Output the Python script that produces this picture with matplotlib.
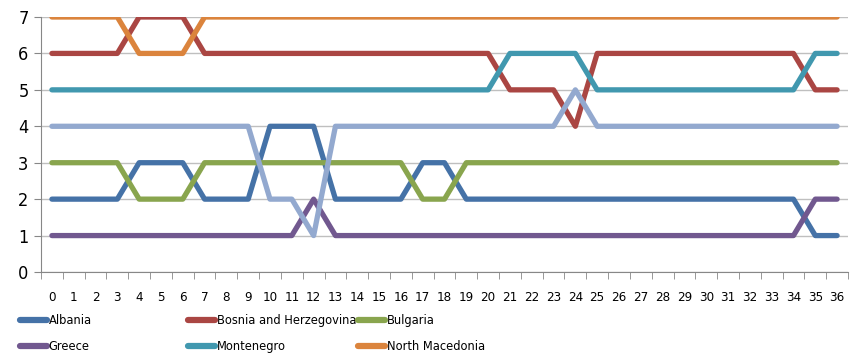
import numpy as np
import matplotlib
matplotlib.use("Agg")
import matplotlib.pyplot as plt

# Данные: место (ранг) по годам/периодам 0..36
x = list(range(37))

albania = [2, 2, 2, 2, 3, 3, 3, 2, 2, 2, 4, 4, 4, 2, 2, 2, 2, 3, 3, 2,
           2, 2, 2, 2, 2, 2, 2, 2, 2, 2, 2, 2, 2, 2, 2, 1, 1]
bosnia = [6, 6, 6, 6, 7, 7, 7, 6, 6, 6, 6, 6, 6, 6, 6, 6, 6, 6, 6, 6,
          6, 5, 5, 5, 4, 6, 6, 6, 6, 6, 6, 6, 6, 6, 6, 5, 5]
bulgaria = [3, 3, 3, 3, 2, 2, 2, 3, 3, 3, 3, 3, 3, 3, 3, 3, 3, 2, 2, 3,
            3, 3, 3, 3, 3, 3, 3, 3, 3, 3, 3, 3, 3, 3, 3, 3, 3]
greece = [1, 1, 1, 1, 1, 1, 1, 1, 1, 1, 1, 1, 2, 1, 1, 1, 1, 1, 1, 1,
          1, 1, 1, 1, 1, 1, 1, 1, 1, 1, 1, 1, 1, 1, 1, 2, 2]
montenegro = [5, 5, 5, 5, 5, 5, 5, 5, 5, 5, 5, 5, 5, 5, 5, 5, 5, 5, 5, 5,
              5, 6, 6, 6, 6, 5, 5, 5, 5, 5, 5, 5, 5, 5, 5, 6, 6]
north_macedonia = [7, 7, 7, 7, 6, 6, 6, 7, 7, 7, 7, 7, 7, 7, 7, 7, 7, 7, 7, 7,
                   7, 7, 7, 7, 7, 7, 7, 7, 7, 7, 7, 7, 7, 7, 7, 7, 7]
# седьмая серия (нет в легенде)
seventh = [4, 4, 4, 4, 4, 4, 4, 4, 4, 4, 2, 2, 1, 4, 4, 4, 4, 4, 4, 4,
           4, 4, 4, 4, 5, 4, 4, 4, 4, 4, 4, 4, 4, 4, 4, 4, 4]

series = [
    ("Albania", albania, "#4572A7"),
    ("Bosnia and Herzegovina", bosnia, "#AA4643"),
    ("Bulgaria", bulgaria, "#89A54E"),
    ("Greece", greece, "#71588F"),
    ("Montenegro", montenegro, "#4198AF"),
    ("North Macedonia", north_macedonia, "#DB843D"),
    (None, seventh, "#93A9CF"),
]

plt.rcParams['font.family'] = ['DejaVu Sans']
plt.rcParams['font.stretch'] = 'condensed'

fig = plt.figure(figsize=(8.5, 3.57), dpi=100)
ax = fig.add_axes([41 / 850, 1 - 272 / 357, (848 - 41) / 850, 255 / 357])

handles = []
for name, vals, col in series:
    ln, = ax.plot(x, vals, color=col, lw=3.8, solid_capstyle="round",
                  solid_joinstyle="round", label=name)
    if name:
        handles.append(ln)

ax.set_xlim(-0.5, 36.5)
ax.set_ylim(0, 7)
ax.set_yticks(range(8))
ax.yaxis.grid(True, color="#BFBFBF", lw=1)
ax.set_axisbelow(True)

ax.set_xticks(x)
ax.set_xticklabels([str(i) for i in x], fontsize=9.5)
ax.set_xticks(np.arange(-0.5, 37, 1), minor=True)
ax.tick_params(axis="x", which="major", length=0, pad=14)
ax.tick_params(axis="x", which="minor", length=5, color="#878787")
ax.tick_params(axis="y", length=5, color="#878787", labelsize=13, pad=4)

for s in ["top", "right"]:
    ax.spines[s].set_visible(False)
for s in ["left", "bottom"]:
    ax.spines[s].set_color("#878787")

# легенда: три колонки по две строки
col_x = [20, 188, 358]
for k in range(3):
    leg = fig.legend(handles=[handles[k], handles[k + 3]], loc="upper left",
                     bbox_to_anchor=(col_x[k] / 850, 1 - 314 / 357),
                     frameon=False, fontsize=9.2, handlelength=2.1,
                     handletextpad=0.15, labelspacing=1.05,
                     borderaxespad=0, borderpad=0)
    for h in leg.get_lines():
        h.set_linewidth(4.5)
        h.set_solid_capstyle("round")

plt.savefig("out.png", dpi=100)
